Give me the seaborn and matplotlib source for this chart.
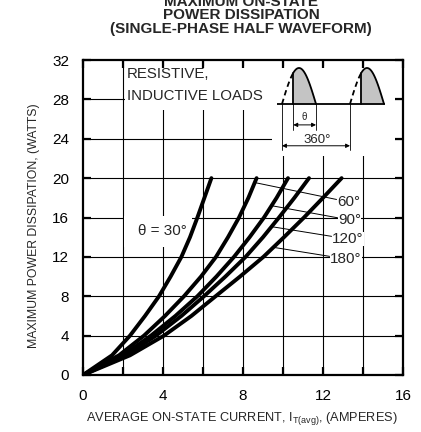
import numpy as np
import pandas as pd
import matplotlib
matplotlib.use('Agg')
import matplotlib.pyplot as plt
import seaborn as sns
from matplotlib.patches import Rectangle

# ---------------- data ----------------
power_w = [0, 2, 4, 6, 8, 10, 12, 14, 16, 18, 20]
current_30 = [0, 1.45, 2.35, 3.10, 3.80, 4.38, 4.92, 5.35, 5.72, 6.07, 6.42]
current_60 = [0, 1.80, 3.05, 4.10, 5.05, 5.90, 6.65, 7.25, 7.80, 8.27, 8.68]
current_90 = [0, 2.00, 3.40, 4.62, 5.72, 6.67, 7.55, 8.33, 9.05, 9.68, 10.25]
current_120 = [0, 2.15, 3.65, 4.92, 6.05, 7.12, 8.13, 9.00, 9.80, 10.57, 11.30]
current_180 = [0, 2.35, 4.05, 5.42, 6.63, 7.85, 9.02, 10.05, 11.05, 12.00, 12.93]
angles = ['30', '60', '90', '120', '180']
x_ticks = [0, 4, 8, 12, 16]
x_minor = [2, 6, 10, 14]
y_ticks = [0, 4, 8, 12, 16, 20, 24, 28, 32]

title_lines = ['MAXIMUM ON-STATE', 'POWER DISSIPATION', '(SINGLE-PHASE HALF WAVEFORM)']
x_label = r'AVERAGE ON-STATE CURRENT, $\mathregular{I_{T(avg)}}$, (AMPERES)'
y_label = 'MAXIMUM POWER DISSIPATION, (WATTS)'

# ---------------- style ----------------
sns.set_style('white')
plt.rcParams['font.family'] = ['Liberation Sans', 'DejaVu Sans']
plt.rcParams['mathtext.fontset'] = 'custom'
plt.rcParams['mathtext.rm'] = 'Liberation Sans'
plt.rcParams['mathtext.it'] = 'Liberation Sans:italic'
plt.rcParams['mathtext.bf'] = 'Liberation Sans:bold'

currents = [current_30, current_60, current_90, current_120, current_180]
df = pd.concat([pd.DataFrame({'current': c, 'power': power_w, 'angle': a})
                for a, c in zip(angles, currents)], ignore_index=True)

W, H = 421, 432
fig = plt.figure(figsize=(W / 100, H / 100), dpi=100)
ax = fig.add_axes([83 / W, 1 - 375 / H, 320 / W, 315 / H])

sns.lineplot(data=df, x='current', y='power', hue='angle', estimator=None,
             sort=False, palette=['black'] * 5, lw=2.8, legend=False, ax=ax,
             zorder=2.4)

ax.set_xlim(0, 16)
ax.set_ylim(0, 32)
ax.set_xticks(x_ticks)
ax.set_xticks(x_minor, minor=True)
ax.set_yticks(y_ticks)
ax.set_axisbelow(False)
ax.tick_params(which='both', direction='in', length=6, width=1.6, color='black',
               top=True, right=True, bottom=True, left=True, pad=10,
               labelsize=11, labelcolor='black')
for s in ax.spines.values():
    s.set_linewidth(1.6)
    s.set_color('black')

# grid
for xv in x_minor + x_ticks[1:-1]:
    ax.axvline(xv, color='black', lw=0.8, zorder=1)
for yv in y_ticks[1:-1]:
    ax.axhline(yv, color='black', lw=0.8, zorder=1)

# white masks behind the legend text / inset / curve label
ax.add_patch(Rectangle((2.1, 26.9), 13.5, 4.5, facecolor='white', edgecolor='none', zorder=2.2))
ax.add_patch(Rectangle((9.45, 22.26), 6.15, 4.7, facecolor='white', edgecolor='none', zorder=2.2))
ax.add_patch(Rectangle((2.06, 13.0), 3.4, 3.2, facecolor='white', edgecolor='none', zorder=2.2))

ax.set_xlabel(x_label, fontsize=9.2)
ax.set_ylabel(y_label, fontsize=8.8)
ax.xaxis.set_label_coords(0.495, -0.111)
ax.xaxis.label.set_va('top')
ax.yaxis.set_label_coords(-0.134, 0.475)

# text labels
ax.text(2.2, 30.59, 'RESISTIVE,', fontsize=10.8, ha='left', va='center', zorder=2.3)
ax.text(2.2, 28.35, 'INDUCTIVE LOADS', fontsize=10.8, ha='left', va='center', zorder=2.3)
ax.text(3.95, 14.63, 'θ = 30°', fontsize=11, ha='center', va='center', zorder=2.3)

leader = [('60°', 19.55, 12.7, 17.58, current_60),
          ('90°', 17.2, 12.75, 15.75, current_90),
          ('120°', 15.07, 12.45, 13.82, current_120),
          ('180°', 12.97, 12.35, 11.79, current_180)]
for lab, yp, tx, ty, cur in leader:
    xp = np.interp(yp, power_w, cur)
    ax.annotate(lab, xy=(xp, yp), xytext=(tx, ty), fontsize=11, ha='left', va='center',
                bbox=dict(facecolor='white', edgecolor='none', pad=0.3),
                arrowprops=dict(arrowstyle='-', lw=0.7, color='black', shrinkA=0, shrinkB=0),
                zorder=2.3)

# title
for txt, py in zip(title_lines, [1.5, 15.0, 29.5]):
    fig.text(241 / W, 1 - py / H, txt, ha='center', va='center', fontsize=11, fontweight='bold')

# ---------------- inset waveform schematic ----------------
ai = fig.add_axes([270 / W, 1 - 156 / H, 125 / W, 96 / H])
ai.set_xlim(-63.5, 598.2)
ai.set_ylim(-1.444, 1.222)
ai.axis('off')
ai.patch.set_alpha(0)
lw_w = 1.3
ai.plot([-28, 545], [0, 0], color='black', lw=lw_w, solid_capstyle='butt')
for start in [0, 360]:
    d_dash = np.linspace(start, start + 60, 20)
    ai.plot(d_dash, np.sin(np.radians(d_dash - start)), color='black', lw=lw_w,
            dashes=(3, 2))
    d_on = np.linspace(start + 60, start + 180, 60)
    s_on = np.sin(np.radians(d_on - start))
    ai.fill_between(d_on, 0, s_on, color='#c4c4c4', lw=0)
    ai.plot(d_on, s_on, color='black', lw=lw_w)
    ai.plot([start + 60, start + 60], [0, np.sin(np.radians(60))], color='black', lw=lw_w)
# extension lines
for xv, yb in [(0, -1.28), (360, -1.28), (60, -0.72), (180, -0.72)]:
    ai.plot([xv, xv], [0, yb], color='black', lw=0.6)
arw = dict(arrowstyle='<|-|>', lw=0.7, color='black', mutation_scale=6, shrinkA=0, shrinkB=0)
ai.annotate('', xy=(180, -0.58), xytext=(60, -0.58), arrowprops=arw)
ai.annotate('', xy=(360, -1.16), xytext=(0, -1.16), arrowprops=arw)
ai.text(120, -0.35, 'θ', fontsize=7, ha='center', va='center')
ai.text(188, -0.99, '360°', fontsize=9.5, ha='center', va='center')

fig.savefig('out.png', dpi=100, facecolor='white')
